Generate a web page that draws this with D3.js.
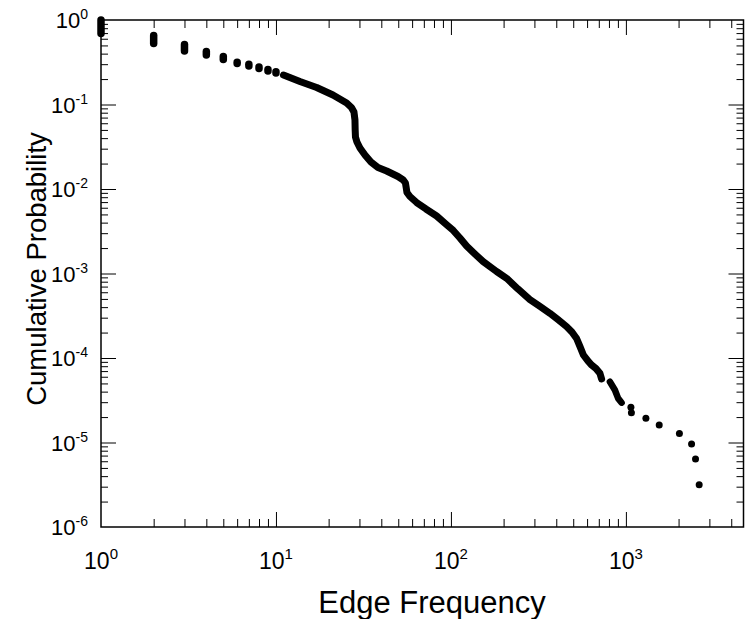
<!DOCTYPE html>
<meta charset="utf-8">

<style type="text/css">
	body { margin: 0; background: #fff; }
	svg { display: block; font-family: "Liberation Sans", Arial, Helvetica, sans-serif; }
	.tick line { stroke: #000; stroke-width: 1; }
	.frame { fill: none; stroke: #000; stroke-width: 1.5; }
</style>

<body>
</body>

<script src="https://cdn.jsdelivr.net/npm/d3@7"></script>

<script>

	// tick labels (exponents of ten)
	var xTickExp = [0, 1, 2, 3];
	var yTickExp = [0, -1, -2, -3, -4, -5, -6];

	// vertical runs of points at small integer frequencies: [x, top, bottom]
	var stackX = [1, 2, 3, 4, 5, 6, 7, 8, 9, 10];
	var stackTop = [1.0, 0.655, 0.513, 0.424, 0.37, 0.316, 0.30, 0.278, 0.26, 0.244];
	var stackBottom = [0.69, 0.527, 0.43, 0.385, 0.34, 0.305, 0.285, 0.267, 0.249, 0.236];

	// dense part of the distribution (points so close they form a thick line)
	var denseX = [11.04, 13.71, 17.08, 21.17, 25.35, 27.0, 27.91, 28.28, 28.36, 28.47,
		29.03, 30.2, 32.26, 34.9, 38.28, 42.92, 49.8, 53.4, 54.95, 55.54,
		56.05, 58.3, 63.68, 71.95, 82.85, 93.6, 103.1, 112.6, 122.9, 137.1,
		152.9, 182.4, 208.2, 241.5, 282.8, 322.6, 367.9, 408.8, 458.3, 491.4,
		522.7, 545.9, 571.6, 606.6, 636.8, 674.1, 710.2, 726.3];
	var denseY = [0.2234, 0.1872, 0.1589, 0.1295, 0.1042, 0.0922, 0.0815, 0.0655, 0.0499, 0.0412,
		0.036, 0.0306, 0.0253, 0.0209, 0.01797, 0.01633, 0.01406, 0.01278, 0.01178, 0.01027,
		0.00909, 0.00815, 0.00692, 0.0058, 0.00479, 0.00385, 0.00323, 0.00263, 0.002115, 0.0017,
		0.00138, 0.001056, 0.000877, 0.000656, 0.000492, 0.000407, 0.000338, 0.000285, 0.000235, 0.000203,
		0.00017, 0.000137, 0.0001085, 9.22e-5, 8.26e-5, 7.51e-5, 6.59e-5, 5.64e-5];

	// short dense run after the gap
	var dense2X = [810, 865, 903, 945];
	var dense2Y = [5.24e-5, 4.18e-5, 3.33e-5, 2.96e-5];

	// single points of the tail
	var tailX = [1068, 1075, 1301, 1550, 2022, 2373, 2500, 2623];
	var tailY = [2.61e-5, 2.25e-5, 1.93e-5, 1.61e-5, 1.28e-5, 9.6e-6, 6.4e-6, 3.17e-6];

	var W = 745, H = 619;
	var m = {left: 101, right: 743.5, top: 20, bottom: 527};

	var xScale = d3.scaleLog()
		.domain([1, 4700])
		.range([m.left, m.right]);

	var yScale = d3.scaleLog()
		.domain([1e-6, 1])
		.range([m.bottom, m.top]);

	var svg = d3.select("body").append("svg")
		.attr("width", W)
		.attr("height", H);

	// ticks
	var xAll = xScale.ticks().filter(function(d) { return d > 1 && d < 4700; });
	var yAll = yScale.ticks().filter(function(d) { return d > 1e-6 && d < 1; });
	function isMajor(d) { return Math.abs(Math.log10(d) - Math.round(Math.log10(d))) < 1e-6; }
	var xMajor = xAll.filter(isMajor), xMinor = xAll.filter(function(d) { return !isMajor(d); });
	var yMajor = yAll.filter(isMajor), yMinor = yAll.filter(function(d) { return !isMajor(d); });

	function addAxis(axis, tx, ty) {
		svg.append("g")
			.attr("transform", "translate(" + tx + "," + ty + ")")
			.call(axis)
			.call(function(g) {
				g.select(".domain").remove();
				g.selectAll("text").remove();
			});
	}

	var majLen = 15, minLen = 8;
	addAxis(d3.axisBottom(xScale).tickValues(xMajor).tickSize(-majLen), 0, m.bottom);
	addAxis(d3.axisBottom(xScale).tickValues(xMinor).tickSize(-minLen), 0, m.bottom);
	addAxis(d3.axisTop(xScale).tickValues(xMajor).tickSize(-majLen), 0, m.top);
	addAxis(d3.axisTop(xScale).tickValues(xMinor).tickSize(-minLen), 0, m.top);
	addAxis(d3.axisLeft(yScale).tickValues(yMajor).tickSize(-majLen), m.left, 0);
	addAxis(d3.axisLeft(yScale).tickValues(yMinor).tickSize(-minLen + 1), m.left, 0);
	addAxis(d3.axisRight(yScale).tickValues(yMajor).tickSize(-majLen), m.right, 0);
	addAxis(d3.axisRight(yScale).tickValues(yMinor).tickSize(-minLen + 1), m.right, 0);

	svg.append("rect")
		.attr("class", "frame")
		.attr("x", m.left)
		.attr("y", m.top)
		.attr("width", m.right - m.left)
		.attr("height", m.bottom - m.top);

	// tick labels with superscripts
	var xLab = svg.selectAll(".xlab")
		.data(xTickExp)
		.enter()
		.append("text")
		.attr("class", "xlab")
		.attr("x", function(d) { return xScale(Math.pow(10, d)); })
		.attr("y", 569)
		.attr("text-anchor", "middle")
		.attr("font-size", 23);
	xLab.append("tspan").text("10");
	xLab.append("tspan").attr("dy", -10).attr("font-size", 15).text(function(d) { return d; });

	var yLab = svg.selectAll(".ylab")
		.data(yTickExp)
		.enter()
		.append("text")
		.attr("class", "ylab")
		.attr("x", 88)
		.attr("y", function(d) { return yScale(Math.pow(10, d)) + 8; })
		.attr("text-anchor", "end")
		.attr("font-size", 22);
	yLab.append("tspan").text("10");
	yLab.append("tspan").attr("dy", -9).attr("font-size", 14).text(function(d) { return d; });

	// axis titles
	svg.append("text")
		.attr("x", 432)
		.attr("y", 613)
		.attr("text-anchor", "middle")
		.attr("font-size", 31)
		.text("Edge Frequency");

	svg.append("text")
		.attr("transform", "translate(46,269) rotate(-90)")
		.attr("text-anchor", "middle")
		.attr("font-size", 27.5)
		.text("Cumulative Probability");

	// data
	var plot = svg.append("g");

	plot.selectAll(".stack")
		.data(stackX)
		.enter()
		.append("line")
		.attr("x1", function(d) { return xScale(d); })
		.attr("x2", function(d) { return xScale(d); })
		.attr("y1", function(d, i) { return yScale(stackTop[i]); })
		.attr("y2", function(d, i) { return yScale(stackBottom[i]); })
		.attr("stroke", "#000")
		.attr("stroke-width", 7.5)
		.attr("stroke-linecap", "round");

	var line = d3.line()
		.x(function(d) { return xScale(d[0]); })
		.y(function(d) { return yScale(d[1]); });

	plot.append("path")
		.datum(d3.zip(denseX, denseY))
		.attr("d", line)
		.attr("fill", "none")
		.attr("stroke", "#000")
		.attr("stroke-width", 7)
		.attr("stroke-linecap", "round")
		.attr("stroke-linejoin", "round");

	plot.append("path")
		.datum(d3.zip(dense2X, dense2Y))
		.attr("d", line)
		.attr("fill", "none")
		.attr("stroke", "#000")
		.attr("stroke-width", 6.5)
		.attr("stroke-linecap", "round")
		.attr("stroke-linejoin", "round");

	plot.selectAll("circle")
		.data(d3.zip(tailX, tailY))
		.enter()
		.append("circle")
		.attr("r", 3.5)
		.attr("cx", function(d) { return xScale(d[0]); })
		.attr("cy", function(d) { return yScale(d[1]); })
		.attr("fill", "#000");

</script>
